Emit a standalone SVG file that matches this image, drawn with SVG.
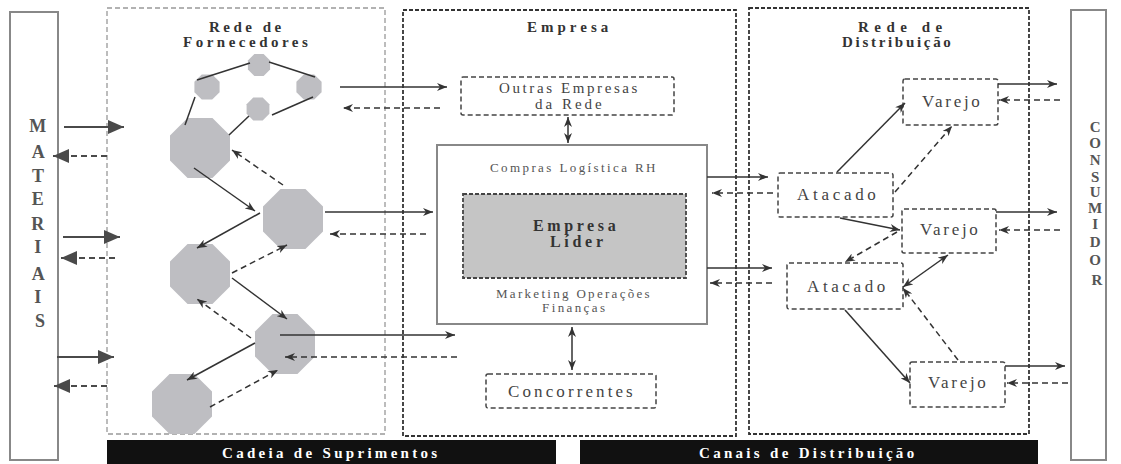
<svg xmlns="http://www.w3.org/2000/svg" width="1121" height="464" viewBox="0 0 1121 464">
  <style>
    text { font-family: "Liberation Serif", "Times New Roman", serif; }
    .hd { font-weight: bold; fill: #333; font-size: 15px; letter-spacing: 3.5px; }
    .lbl { fill: #444; font-size: 17px; }
    .sm { fill: #555; font-size: 13px; letter-spacing: 2.3px; }
    .col { font-weight: bold; fill: #555; text-anchor: middle; }
    .bar { font-weight: bold; fill: #fff; font-size: 15px; letter-spacing: 3.3px; }
    .frameA { fill: none; stroke: #999; stroke-width: 1.3; stroke-dasharray: 5 3; }
    .frameB { fill: none; stroke: #333; stroke-width: 1.8; stroke-dasharray: 4 2; }
    .box { fill: #fff; stroke: #444; stroke-width: 1.5; stroke-dasharray: 5 3; }
    .edge { fill: #fff; stroke: #888; stroke-width: 2; }
    .oct { fill: #bebec2; }
    .ln { fill: none; stroke: #333; stroke-width: 1.5; }
    .dl { fill: none; stroke: #333; stroke-width: 1.5; stroke-dasharray: 6 4; }
    .mat { fill: none; stroke: #4a4a4a; stroke-width: 1.8; }
    .matd { fill: none; stroke: #4a4a4a; stroke-width: 1.8; stroke-dasharray: 6 4; }
  </style>
  <defs>
    <marker id="big" viewBox="0 0 16 14" refX="16" refY="7" markerWidth="16" markerHeight="14" orient="auto-start-reverse" markerUnits="userSpaceOnUse">
      <path d="M0,0 L16,7 L0,14 z" fill="#4a4a4a"/>
    </marker>
    <marker id="ah" viewBox="0 0 10 8" refX="10" refY="4" markerWidth="10" markerHeight="8" orient="auto-start-reverse" markerUnits="userSpaceOnUse">
      <path d="M0,0 L10,4 L0,8 L3,4 z" fill="#333"/>
    </marker>
    <polygon id="octShape" points="12.43,-30 30,-12.43 30,12.43 12.43,30 -12.43,30 -30,12.43 -30,-12.43 -12.43,-30"/>
  </defs>

  <rect width="1121" height="464" fill="#fff"/>

  <!-- outer frames -->
  <g id="materiais">
    <rect class="edge" x="10" y="12" width="48" height="448"/>
    <text class="col" font-size="18">
      <tspan x="40" y="132">M</tspan>
      <tspan x="40" y="158">A</tspan>
      <tspan x="40" y="182">T</tspan>
      <tspan x="40" y="205">E</tspan>
      <tspan x="40" y="230">R</tspan>
      <tspan x="40" y="253">I</tspan>
      <tspan x="40" y="280">A</tspan>
      <tspan x="40" y="303">I</tspan>
      <tspan x="40" y="327">S</tspan>
    </text>
  </g>

  <g id="consumidor">
    <rect class="edge" x="1071" y="10" width="35" height="450"/>
    <text class="col" font-size="15">
      <tspan x="1097" y="132">C</tspan>
      <tspan x="1097" y="148">O</tspan>
      <tspan x="1097" y="165">N</tspan>
      <tspan x="1097" y="182">S</tspan>
      <tspan x="1097" y="197">U</tspan>
      <tspan x="1097" y="213">M</tspan>
      <tspan x="1097" y="229">I</tspan>
      <tspan x="1097" y="247">D</tspan>
      <tspan x="1097" y="265">O</tspan>
      <tspan x="1097" y="285">R</tspan>
    </text>
  </g>

  <g id="rede-fornecedores">
    <rect class="frameA" x="107" y="8" width="278" height="426"/>
    <text class="hd" x="209" y="32">Rede de</text>
    <text class="hd" x="183" y="47">Fornecedores</text>
  </g>

  <g id="empresa">
    <rect class="frameB" x="403" y="10" width="333" height="426"/>
    <text class="hd" x="527" y="32" style="letter-spacing:4px">Empresa</text>
  </g>

  <g id="rede-distribuicao">
    <rect class="frameB" x="749" y="8" width="280" height="426"/>
    <text class="hd" x="858" y="32" style="letter-spacing:5.5px">Rede de</text>
    <text class="hd" x="842" y="47" style="letter-spacing:2.7px">Distribuição</text>
  </g>

  <!-- bottom banners -->
  <g id="cadeia-suprimentos">
    <rect x="107" y="440" width="449" height="24" fill="#111"/>
    <text class="bar" x="222" y="458">Cadeia de Suprimentos</text>
  </g>
  <g id="canais-distribuicao">
    <rect x="580" y="440" width="458" height="24" fill="#111"/>
    <text class="bar" x="699" y="458">Canais de Distribuição</text>
  </g>

  <!-- supplier network nodes -->
  <g id="fornecedores">
    <use href="#octShape" class="oct" transform="translate(259,65) scale(0.37)"/>
    <use href="#octShape" class="oct" transform="translate(207,87) scale(0.42)"/>
    <use href="#octShape" class="oct" transform="translate(309,87) scale(0.42)"/>
    <use href="#octShape" class="oct" transform="translate(258,109) scale(0.38)"/>
    <use href="#octShape" class="oct" transform="translate(200,148)"/>
    <use href="#octShape" class="oct" transform="translate(293,219)"/>
    <use href="#octShape" class="oct" transform="translate(200,274)"/>
    <use href="#octShape" class="oct" transform="translate(285,344)"/>
    <use href="#octShape" class="oct" transform="translate(182,404)"/>
  </g>

  <!-- company nodes -->
  <g id="outras-empresas">
    <rect class="box" x="461" y="77" width="213" height="38" rx="2"/>
    <text class="lbl" x="499" y="93" style="font-size:15px;letter-spacing:2.6px">Outras Empresas</text>
    <text class="lbl" x="535" y="109" style="font-size:15px;letter-spacing:3px">da Rede</text>
  </g>

  <g id="empresa-funcoes">
    <rect class="edge" x="437" y="145" width="270" height="179"/>
    <text class="sm" x="490" y="172" style="letter-spacing:2.4px">Compras Logística RH</text>
    <text class="sm" x="496" y="298">Marketing Operações</text>
    <text class="sm" x="542" y="312" style="letter-spacing:2.4px">Finanças</text>
  </g>

  <g id="empresa-lider">
    <rect x="463" y="194" width="223" height="84" fill="#c5c5c5" stroke="#444" stroke-width="1.8" stroke-dasharray="4 2"/>
    <text class="hd" x="533" y="231" style="font-size:16px;letter-spacing:3.6px">Empresa</text>
    <text class="hd" x="550" y="247" style="font-size:16px;letter-spacing:3.7px">Líder</text>
  </g>

  <g id="concorrentes">
    <rect class="box" x="486" y="374" width="170" height="34" rx="2"/>
    <text class="lbl" x="508" y="397" style="letter-spacing:3.1px">Concorrentes</text>
  </g>

  <!-- distribution nodes -->
  <g id="atacado-1">
    <rect class="box" x="778" y="173" width="115" height="44" rx="2"/>
    <text class="lbl" x="797" y="200" style="letter-spacing:3.7px">Atacado</text>
  </g>
  <g id="varejo-1">
    <rect class="box" x="903" y="79" width="95" height="46" rx="2"/>
    <text class="lbl" x="922" y="107" style="letter-spacing:2.7px">Varejo</text>
  </g>
  <g id="varejo-2">
    <rect class="box" x="902" y="209" width="94" height="44" rx="2"/>
    <text class="lbl" x="920" y="235" style="letter-spacing:2.7px">Varejo</text>
  </g>
  <g id="atacado-2">
    <rect class="box" x="787" y="263" width="116" height="46" rx="2"/>
    <text class="lbl" x="807" y="292" style="letter-spacing:3.6px">Atacado</text>
  </g>
  <g id="varejo-3">
    <rect class="box" x="910" y="362" width="95" height="45" rx="2"/>
    <text class="lbl" x="928" y="388" style="letter-spacing:2.7px">Varejo</text>
  </g>

  <!-- connectors -->
  <g id="connectors">
    <!-- raw materials in / out -->
    <path class="mat" d="M64,127 H124" marker-end="url(#big)"/>
    <path class="matd" d="M107,156 H53" marker-end="url(#big)"/>
    <path class="mat" d="M63,237 H120" marker-end="url(#big)"/>
    <path class="matd" d="M115,258 H61" marker-end="url(#big)"/>
    <path class="mat" d="M57,357 H114" marker-end="url(#big)"/>
    <path class="matd" d="M107,386 H54" marker-end="url(#big)"/>

    <!-- links between small suppliers -->
    <path class="ln" d="M197,80 L250,63"/>
    <path class="ln" d="M269,62 L315,77"/>
    <path class="ln" d="M313,97 L272,115"/>
    <path class="ln" d="M249,116 L229,135"/>
    <path class="ln" d="M195,97 L185,125"/>

    <!-- flows between large suppliers -->
    <path class="ln" d="M194,168 L255,211" marker-end="url(#ah)"/>
    <path class="dl" d="M283,185 L232,150" marker-end="url(#ah)"/>
    <path class="ln" d="M260,213 L197,248" marker-end="url(#ah)"/>
    <path class="dl" d="M232,273 L287,245" marker-end="url(#ah)"/>
    <path class="ln" d="M232,278 L287,319" marker-end="url(#ah)"/>
    <path class="dl" d="M251,338 L197,299" marker-end="url(#ah)"/>
    <path class="ln" d="M255,343 L187,380" marker-end="url(#ah)"/>
    <path class="dl" d="M210,407 L278,370" marker-end="url(#ah)"/>

    <!-- suppliers to company -->
    <path class="ln" d="M340,87 H447" marker-end="url(#ah)"/>
    <path class="dl" d="M440,108 H343" marker-end="url(#ah)"/>
    <path class="ln" d="M325,212 H433" marker-end="url(#ah)"/>
    <path class="dl" d="M426,234 H330" marker-end="url(#ah)"/>
    <path class="ln" d="M280,335 H455" marker-end="url(#ah)"/>
    <path class="dl" d="M457,357 H285" marker-end="url(#ah)"/>

    <!-- two-way links inside the company -->
    <path class="ln" stroke-width="2" d="M568,117 V143" marker-start="url(#ah)" marker-end="url(#ah)"/>
    <path class="ln" stroke-width="2" d="M572,327 V370" marker-start="url(#ah)" marker-end="url(#ah)"/>

    <!-- company to wholesalers -->
    <path class="ln" d="M707,177 H768" marker-end="url(#ah)"/>
    <path class="dl" d="M773,193 H712" marker-end="url(#ah)"/>
    <path class="ln" d="M707,268 H772" marker-end="url(#ah)"/>
    <path class="dl" d="M772,283 H710" marker-end="url(#ah)"/>

    <!-- wholesalers and retailers -->
    <path class="ln" d="M837,172 L905,103" marker-end="url(#ah)"/>
    <path class="dl" d="M895,192 L952,126" marker-end="url(#ah)"/>
    <path class="ln" d="M840,218 L900,230" marker-end="url(#ah)"/>
    <path class="dl" d="M897,232 L845,262" marker-end="url(#ah)"/>
    <path class="ln" d="M903,287 L948,255" marker-start="url(#ah)" marker-end="url(#ah)"/>
    <path class="dl" d="M958,360 L903,288" marker-end="url(#ah)"/>
    <path class="ln" d="M845,310 L910,383" marker-end="url(#ah)"/>

    <!-- retailers to consumer -->
    <path class="ln" d="M998,84 H1057" marker-end="url(#ah)"/>
    <path class="dl" d="M1060,100 H999" marker-end="url(#ah)"/>
    <path class="ln" d="M996,212 H1057" marker-end="url(#ah)"/>
    <path class="dl" d="M1060,230 H999" marker-end="url(#ah)"/>
    <path class="ln" d="M1005,366 H1065" marker-end="url(#ah)"/>
    <path class="dl" d="M1068,383 H1007" marker-end="url(#ah)"/>
  </g>
</svg>
